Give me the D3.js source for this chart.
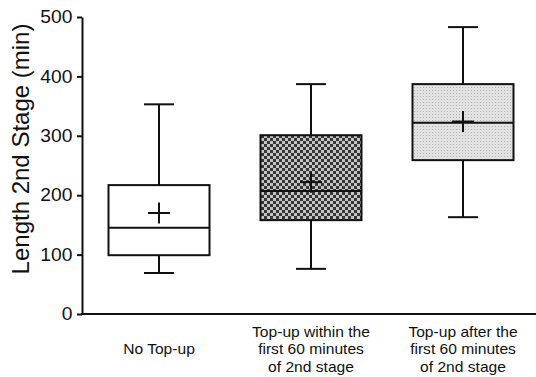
<!DOCTYPE html>
<html>
<head>
<meta charset="utf-8">
<script src="https://cdn.jsdelivr.net/npm/d3@7"></script>
<style>
  body { margin: 0; background: #fff; }
  text { font-family: "Liberation Sans", Arial, sans-serif; fill: #111; }
</style>
</head>
<body>
<svg id="chart" width="536" height="377"></svg>
<script>
// groups and their label lines
var categories = ["none", "early", "late"];
var labelLines = [
  ["No Top-up"],
  ["Top-up within the", "first 60 minutes", "of 2nd stage"],
  ["Top-up after the", "first 60 minutes", "of 2nd stage"]
];
// box plot values (minutes)
var mins    = [69, 76, 163];
var q1s     = [99, 158, 259];
var medians = [145, 207, 322];
var q3s     = [217, 301, 387];
var maxs    = [353, 387, 483];
var means   = [170, 222, 324];
var fills   = ["#fff", "url(#checker)", "url(#dots)"];

var yTicks = [0, 100, 200, 300, 400, 500];

var svg = d3.select("#chart");

var y = d3.scaleLinear().domain([0, 500]).range([314, 17]);
var x = d3.scalePoint().domain(categories).range([83, 539]).padding(0.5);

var boxW = 101, capW = 30, plusW = 11, plusH = 10.5;

// patterns
var defs = svg.append("defs");
var checker = defs.append("pattern")
    .attr("id", "checker")
    .attr("patternUnits", "userSpaceOnUse")
    .attr("width", 6).attr("height", 6);
checker.append("rect").attr("width", 6).attr("height", 6).attr("fill", "#c4c4c4");
checker.append("rect").attr("width", 3).attr("height", 3).attr("fill", "#363636");
checker.append("rect").attr("x", 3).attr("y", 3).attr("width", 3).attr("height", 3).attr("fill", "#363636");

var dots = defs.append("pattern")
    .attr("id", "dots")
    .attr("patternUnits", "userSpaceOnUse")
    .attr("width", 3).attr("height", 3);
dots.append("rect").attr("width", 3).attr("height", 3).attr("fill", "#e2e2e2");
dots.append("rect").attr("width", 1).attr("height", 1).attr("fill", "#b4b4b4");

// y axis
var yAxis = svg.append("g")
    .attr("transform", "translate(82,0)")
    .call(d3.axisLeft(y).tickValues(yTicks).tickSize(5).tickSizeOuter(0).tickPadding(3));
yAxis.select(".domain").attr("stroke", "#111").attr("stroke-width", 2);
yAxis.selectAll(".tick line").attr("stroke", "#111").attr("stroke-width", 2);
yAxis.selectAll(".tick text")
    .attr("font-size", 17.5)
    .attr("font-family", null)
    .attr("fill", "#111")
    .attr("transform", "translate(-0.8,0) scale(1.1,1)");

// x axis (no ticks)
var xAxis = svg.append("g")
    .attr("transform", "translate(0,314)")
    .call(d3.axisBottom(x).tickSize(0).tickFormat(""));
xAxis.select(".domain").attr("stroke", "#111").attr("stroke-width", 2)
    .attr("d", "M81,0H536");

// category labels
var lab = svg.append("g").selectAll("text")
    .data(categories)
    .join("text")
    .attr("text-anchor", "middle")
    .attr("font-size", 15)
    .attr("transform", function(d) { return "translate(" + x(d) + ",0) scale(1.04,1)"; });
lab.each(function(d, i) {
  var lines = labelLines[i];
  var t = d3.select(this);
  lines.forEach(function(s, j) {
    var row = lines.length == 1 ? 1 : j;
    t.append("tspan").attr("x", 0).attr("y", 337 + row * 17.5).text(s);
  });
});

// boxes
var boxes = svg.append("g").selectAll("g")
    .data(categories)
    .join("g")
    .attr("stroke", "#111")
    .attr("stroke-width", 2)
    .attr("fill", "none");

boxes.append("line")
    .attr("x1", d => x(d)).attr("x2", d => x(d))
    .attr("y1", (d, i) => y(maxs[i])).attr("y2", (d, i) => y(q3s[i]));
boxes.append("line")
    .attr("x1", d => x(d)).attr("x2", d => x(d))
    .attr("y1", (d, i) => y(q1s[i])).attr("y2", (d, i) => y(mins[i]));
boxes.append("line")
    .attr("x1", d => x(d) - capW / 2).attr("x2", d => x(d) + capW / 2)
    .attr("y1", (d, i) => y(maxs[i])).attr("y2", (d, i) => y(maxs[i]));
boxes.append("line")
    .attr("x1", d => x(d) - capW / 2).attr("x2", d => x(d) + capW / 2)
    .attr("y1", (d, i) => y(mins[i])).attr("y2", (d, i) => y(mins[i]));
boxes.append("rect")
    .attr("x", d => x(d) - boxW / 2)
    .attr("width", boxW)
    .attr("y", (d, i) => y(q3s[i]))
    .attr("height", (d, i) => y(q1s[i]) - y(q3s[i]))
    .attr("fill", (d, i) => fills[i]);
boxes.append("line")
    .attr("x1", d => x(d) - boxW / 2).attr("x2", d => x(d) + boxW / 2)
    .attr("y1", (d, i) => y(medians[i])).attr("y2", (d, i) => y(medians[i]));
// mean markers
boxes.append("line")
    .attr("x1", d => x(d) - plusW).attr("x2", d => x(d) + plusW)
    .attr("y1", (d, i) => y(means[i])).attr("y2", (d, i) => y(means[i]));
boxes.append("line")
    .attr("x1", d => x(d)).attr("x2", d => x(d))
    .attr("y1", (d, i) => y(means[i]) - plusH).attr("y2", (d, i) => y(means[i]) + plusH);

// y title
svg.append("text")
    .attr("transform", "translate(29,149) rotate(-90)")
    .attr("text-anchor", "middle")
    .attr("font-size", 24)
    .text("Length 2nd Stage (min)");
</script>
</body>
</html>
